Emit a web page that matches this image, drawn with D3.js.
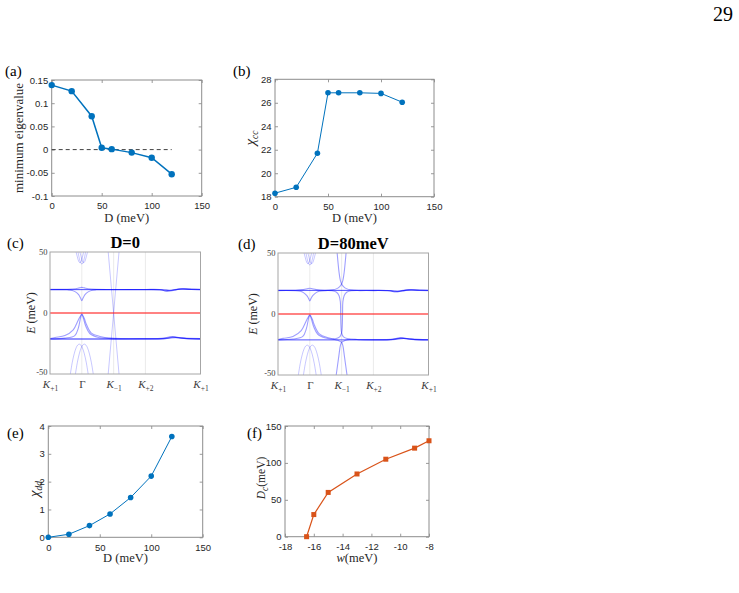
<!DOCTYPE html>
<html>
<head>
<meta charset="utf-8">
<script src="https://cdn.jsdelivr.net/npm/d3@7"></script>
<style>
  body { margin: 0; background: #fff; }
  svg { display: block; }
  .num .tick text { font-family: "Liberation Sans", Arial, sans-serif; font-size: 9.5px; fill: #262626; }
  .tick line { stroke: #808080; stroke-width: 0.8; }
</style>
</head>
<body>
<div id="chart"></div>
<script>
const WIDTH = 739;
const HEIGHT = 593;
const SERIF = '"Liberation Serif", "Times New Roman", serif';
const BLUE = '#0072bd';
const ORANGE = '#d95319';
const FRAME = '#8c8c8c';
const TEXT = '#262626';

// (a) minimum eigenvalue vs D
const dA = [0, 20, 40, 50, 60, 80, 100, 120];
const minEigen = [0.139, 0.126, 0.072, 0.004, 0.001, -0.0065, -0.0175, -0.053];
const zeroRefD = [0, 120];

// (b) chi_cc vs D
const dB = [0, 20, 40, 50, 60, 80, 100, 120];
const chiCC = [18.3, 18.8, 21.7, 26.85, 26.85, 26.85, 26.8, 26.05];

// (e) chi_dd vs D
const dE = [0, 20, 40, 60, 80, 100, 120];
const chiDD = [0, 0.11, 0.42, 0.84, 1.43, 2.2, 3.62];

// (f) critical D vs w
const wF = [-16.5, -16, -15, -13, -11, -9, -8];
const dCrit = [0, 30, 60, 85, 105, 120, 130];

// tick values
const dTicks = [0, 50, 100, 150];
const eigenTicks = [-0.1, -0.05, 0, 0.05, 0.1, 0.15];
const chiCCTicks = [18, 20, 22, 24, 26, 28];
const chiDDTicks = [0, 1, 2, 3, 4];
const wTicks = [-18, -16, -14, -12, -10, -8];
const dCritTicks = [0, 50, 100, 150];

// band structure path K+1 -> Γ -> K-1 -> K+2 -> K+1 (units of |K|)
const kPathTicks = [0, 1, 2, 3, 4.732];
const kPathLabels = [['K', '+1'], ['Γ', ''], ['K', '−1'], ['K', '+2'], ['K', '+1']];
const energyTicks = [-50, 0, 50];

// remote bands around Γ (same in both panels)
const topCupL = [[0.82, 50], [0.86, 46], [0.9, 42.5], [0.94, 41.2], [0.98, 42.5], [1.02, 46], [1.06, 50]];
const topCupM = [[0.88, 50], [0.92, 45], [0.96, 41.3], [1, 40.2], [1.04, 41.3], [1.08, 45], [1.12, 50]];
const topCupR = [[0.94, 50], [0.98, 46], [1.02, 42.5], [1.06, 41.2], [1.1, 42.5], [1.14, 46], [1.18, 50]];
const archL = [[0.64, -50], [0.7, -40.5], [0.76, -33.5], [0.82, -28.6], [0.87, -26.3], [0.92, -25.5], [0.97, -26.3], [1.02, -28.6], [1.08, -33.5], [1.14, -40.5], [1.2, -50]];
const archR = [[0.8, -50], [0.86, -40.5], [0.92, -33.5], [0.98, -28.6], [1.03, -26.3], [1.08, -25.5], [1.13, -26.3], [1.18, -28.6], [1.24, -33.5], [1.3, -40.5], [1.36, -50]];

// (c) D = 0
const cUpperRise = [[0, 19.4], [0.55, 19.4], [0.8, 19.9], [0.92, 20.6], [1, 21], [1.08, 20.6], [1.2, 19.9], [1.45, 19.4], [2, 19.3], [3, 19.3], [3.45, 19.2], [3.65, 18.2], [3.85, 18.9], [4.1, 19.8], [4.4, 19.4], [4.732, 19.4]];
const cUpperDip = [[0, 19.1], [0.55, 19], [0.7, 18.5], [0.8, 17.3], [0.9, 15], [0.96, 12.3], [1, 10], [1.04, 12.3], [1.1, 15], [1.2, 17.3], [1.3, 18.5], [1.45, 19], [2, 19.1], [3, 19.1], [3.5, 18.9], [3.68, 17.7], [3.9, 18.6], [4.15, 19.9], [4.45, 19.3], [4.732, 19.1]];
const cUpperFlat = [[0, 19.2], [2, 19.2], [3, 19.2], [3.6, 19], [3.8, 18.6], [4.05, 19.5], [4.732, 19.2]];
const cUpperFlat2 = [[0, 19.3], [2, 19.3], [3, 19.3], [3.55, 19.1], [3.75, 18.4], [4, 19.3], [4.2, 19.7], [4.732, 19.3]];
const cLowerPeakA = [[0, -21], [0.16, -20.1], [0.47, -18.5], [0.73, -13.8], [0.89, -5.7], [0.97, -1.8], [1, -0.8], [1.03, -1.8], [1.08, -4.5], [1.15, -9.7], [1.3, -16.5], [1.57, -19.2], [1.93, -20.6], [2.5, -21], [3, -21], [3.5, -20.8], [3.85, -19.3], [4.15, -20.4], [4.732, -21]];
const cLowerPeakB = [[0, -21.3], [0.47, -20.6], [0.78, -18.5], [0.89, -12.4], [0.97, -2.9], [1, -1.2], [1.04, -3.5], [1.12, -10.5], [1.25, -16.8], [1.5, -19.8], [1.9, -21], [3, -21.2], [3.55, -21], [3.85, -19.8], [4.2, -20.8], [4.732, -21.2]];
const cLowerFlat = [[0, -21.4], [2, -21.4], [3, -21.3], [3.7, -20.9], [3.95, -20.2], [4.3, -21], [4.732, -21.4]];
const cLowerFlat2 = [[0, -21.2], [2, -21.2], [3, -21.2], [3.6, -21], [3.9, -19.9], [4.2, -20.7], [4.732, -21.2]];
const cDiracA = [[1.83, 50], [2.17, -50]];
const cDiracB = [[2.17, 50], [1.83, -50]];

// (d) D = 80 meV
const dRiseToTop = [[0, 19.5], [0.55, 19.5], [0.8, 20], [0.92, 20.7], [1, 21.1], [1.08, 20.7], [1.2, 20], [1.45, 19.5], [1.7, 19.8], [1.85, 20.8], [1.94, 22.5], [2, 24.6], [2.04, 27.5], [2.08, 34], [2.14, 50]];
const dTopToRight = [[1.86, 50], [1.92, 34], [1.96, 27.5], [2, 24.6], [2.06, 22.5], [2.15, 20.8], [2.3, 19.8], [2.6, 19.5], [3, 19.5], [3.45, 19.3], [3.65, 18.4], [3.85, 19], [4.1, 19.9], [4.4, 19.5], [4.732, 19.5]];
const dDipToLower = [[0, 19.2], [0.55, 19.1], [0.7, 18.6], [0.8, 17.5], [0.9, 15.2], [0.96, 12.8], [1, 10.7], [1.04, 12.8], [1.1, 15.2], [1.2, 17.5], [1.3, 18.6], [1.5, 19.2], [1.7, 19], [1.84, 17.8], [1.92, 15], [1.96, 10], [1.97, 0], [1.98, -10], [2.0, -15.5], [2.06, -18.8], [2.2, -20.3], [2.5, -20.9], [3, -21], [3.55, -20.8], [3.85, -19.6], [4.2, -20.6], [4.732, -21]];
const dPeakToUpper = [[0, -20.9], [0.16, -20], [0.47, -18.4], [0.73, -13.6], [0.89, -5.5], [0.97, -1.6], [1, -0.6], [1.03, -1.6], [1.08, -4.3], [1.15, -9.5], [1.3, -16.3], [1.55, -19.2], [1.8, -20.3], [1.94, -18.8], [2.0, -15.5], [2.02, -10], [2.03, 0], [2.04, 10], [2.08, 15], [2.16, 17.8], [2.3, 19], [2.6, 19.2], [3, 19.2], [3.5, 19], [3.7, 18], [3.9, 18.8], [4.15, 19.8], [4.45, 19.3], [4.732, 19.2]];
const dPeakToBottom = [[0, -21.2], [0.47, -20.5], [0.78, -18.4], [0.89, -12.2], [0.97, -2.7], [1, -1], [1.04, -3.3], [1.12, -10.3], [1.25, -16.6], [1.5, -19.7], [1.75, -20.8], [1.88, -21.6], [1.96, -22.6], [2, -23.2], [2.04, -26], [2.09, -35], [2.17, -50]];
const dBottomToRight = [[1.83, -50], [1.91, -35], [1.96, -26], [2, -23.2], [2.04, -22.6], [2.12, -21.6], [2.25, -20.8], [2.6, -21.1], [3, -21.2], [3.55, -21], [3.85, -19.8], [4.2, -20.8], [4.732, -21.2]];
const dUpperFlat = [[0, 19.3], [1.7, 19.3], [2.3, 19.3], [3, 19.3], [3.6, 19.1], [3.8, 18.7], [4.05, 19.6], [4.732, 19.3]];
const dUpperFlat2 = [[0, 19.4], [1.75, 19.4], [2.25, 19.4], [3, 19.4], [3.55, 19.2], [3.75, 18.5], [4.0, 19.4], [4.2, 19.8], [4.732, 19.4]];
const dLowerFlat = [[0, -21.3], [1.7, -21.3], [2.3, -21.3], [3, -21.3], [3.7, -20.9], [3.95, -20.1], [4.3, -21], [4.732, -21.3]];
const dLowerFlat2 = [[0, -21.1], [1.75, -21.1], [2.25, -21.1], [3, -21.1], [3.6, -20.9], [3.9, -19.8], [4.2, -20.6], [4.732, -21.1]];

const svg = d3.select('#chart').append('svg')
    .attr('width', WIDTH)
    .attr('height', HEIGHT);

/**
 * Box with inward ticks on all four sides (MATLAB style)
 */
const drawFrame = (g, x, y, xTicks, yTicks, xFmt, yFmt) => {
    const [l, r] = x.range();
    const [b, t] = y.range();
    const tick = 3;

    g.append('g').attr('class', 'num')
        .attr('transform', `translate(0,${b})`)
        .call(d3.axisBottom(x).tickValues(xTicks).tickSize(-tick).tickPadding(6.5).tickFormat(xFmt))
        .call(a => a.select('.domain').remove());
    g.append('g')
        .attr('transform', `translate(0,${t})`)
        .call(d3.axisTop(x).tickValues(xTicks).tickSize(-tick).tickFormat(''))
        .call(a => a.select('.domain').remove());
    g.append('g').attr('class', 'num')
        .attr('transform', `translate(${l},0)`)
        .call(d3.axisLeft(y).tickValues(yTicks).tickSize(-tick).tickPadding(3.5).tickFormat(yFmt))
        .call(a => a.select('.domain').remove());
    g.append('g')
        .attr('transform', `translate(${r},0)`)
        .call(d3.axisRight(y).tickValues(yTicks).tickSize(-tick).tickFormat(''))
        .call(a => a.select('.domain').remove());

    g.append('rect')
        .attr('x', l).attr('y', t)
        .attr('width', r - l).attr('height', b - t)
        .attr('fill', 'none')
        .attr('stroke', FRAME)
        .attr('stroke-width', 1);
};

/**
 * Line + marker panel
 */
const drawLinePanel = (cfg) => {
    const x = d3.scaleLinear().domain(cfg.xDomain).range([cfg.left, cfg.right]);
    const y = d3.scaleLinear().domain(cfg.yDomain).range([cfg.bottom, cfg.top]);
    const g = svg.append('g');

    drawFrame(g, x, y, cfg.xTicks, cfg.yTicks, d => String(d), d => String(d));

    if (cfg.extra) cfg.extra(g, x, y);

    const pts = cfg.xs.map((v, i) => [v, cfg.ys[i]]);
    g.append('path')
        .datum(pts)
        .attr('fill', 'none')
        .attr('stroke', cfg.color)
        .attr('stroke-width', cfg.lineWidth)
        .attr('d', d3.line().x(d => x(d[0])).y(d => y(d[1])));

    if (cfg.square) {
        g.selectAll('rect.mk').data(pts).join('rect')
            .attr('class', 'mk')
            .attr('x', d => x(d[0]) - cfg.size / 2)
            .attr('y', d => y(d[1]) - cfg.size / 2)
            .attr('width', cfg.size).attr('height', cfg.size)
            .attr('fill', cfg.color);
    } else {
        g.selectAll('circle').data(pts).join('circle')
            .attr('cx', d => x(d[0]))
            .attr('cy', d => y(d[1]))
            .attr('r', cfg.size)
            .attr('fill', cfg.color);
    }
    return g;
};

/**
 * Band structure panel
 */
const drawBandPanel = (cfg) => {
    const x = d3.scaleLinear().domain([0, 4.732]).range([cfg.left, cfg.right]);
    const y = d3.scaleLinear().domain([-50, 50]).range([cfg.bottom, cfg.top]);
    const g = svg.append('g');

    g.append('clipPath').attr('id', cfg.id)
        .append('rect')
        .attr('x', cfg.left).attr('y', cfg.top)
        .attr('width', cfg.right - cfg.left).attr('height', cfg.bottom - cfg.top);

    // vertical guides at high-symmetry points
    g.selectAll('line.guide')
        .data(kPathTicks.slice(1, -1))
        .join('line')
        .attr('class', 'guide')
        .attr('x1', d => x(d)).attr('x2', d => x(d))
        .attr('y1', cfg.top).attr('y2', cfg.bottom)
        .attr('stroke', '#e3e3e3')
        .attr('stroke-width', 0.7);

    const band = d3.line()
        .x(d => x(d[0]))
        .y(d => y(d[1]))
        .curve(d3.curveCatmullRom.alpha(0.5));

    const clipped = g.append('g').attr('clip-path', `url(#${cfg.id})`);

    // remote / dispersive bands: faint
    clipped.append('g')
        .selectAll('path')
        .data(cfg.faint)
        .join('path')
        .attr('fill', 'none')
        .attr('stroke', '#0000ff')
        .attr('stroke-width', 0.8)
        .attr('stroke-opacity', 0.28)
        .attr('d', band);

    // flat bands: several overlapping lines
    clipped.append('g')
        .selectAll('path')
        .data(cfg.bands)
        .join('path')
        .attr('fill', 'none')
        .attr('stroke', '#0000ff')
        .attr('stroke-width', 1.1)
        .attr('stroke-opacity', 0.38)
        .attr('d', band);

    // Fermi level
    g.append('line')
        .attr('x1', cfg.left).attr('x2', cfg.right)
        .attr('y1', y(0)).attr('y2', y(0))
        .attr('stroke', '#ff2020')
        .attr('stroke-opacity', 0.75)
        .attr('stroke-width', 1.5);

    g.append('rect')
        .attr('x', cfg.left).attr('y', cfg.top)
        .attr('width', cfg.right - cfg.left).attr('height', cfg.bottom - cfg.top)
        .attr('fill', 'none')
        .attr('stroke', '#a6a6a6')
        .attr('stroke-width', 1);

    // energy ticks (the lowest one sits a touch above the corner)
    const yAx = g.append('g')
        .attr('transform', `translate(${cfg.left},0)`)
        .call(d3.axisLeft(y).tickValues(energyTicks).tickSize(0).tickPadding(2.5).tickFormat(d => String(d)))
        .call(a => a.select('.domain').remove());
    yAx.selectAll('text')
        .attr('font-family', SERIF)
        .attr('font-size', '8.5px')
        .attr('fill', '#404040')
        .attr('y', d => (d === -50 ? -2 : 0));

    // k-path ticks
    const xAx = g.append('g')
        .attr('transform', `translate(0,${cfg.bottom})`)
        .call(d3.axisBottom(x).tickValues(kPathTicks).tickSize(0).tickPadding(6.5).tickFormat(''))
        .call(a => a.select('.domain').remove());
    xAx.selectAll('.tick text').each(function (d, i) {
        const t = d3.select(this)
            .attr('font-family', SERIF)
            .attr('font-size', '11px')
            .attr('fill', '#404040');
        t.append('tspan').attr('font-style', kPathLabels[i][1] ? 'italic' : 'normal').text(kPathLabels[i][0]);
        if (kPathLabels[i][1]) {
            t.append('tspan').attr('font-size', '7.5px').attr('dy', 3).text(kPathLabels[i][1]);
        }
    });

    // y label: E (meV)
    const yl = g.append('text')
        .attr('transform', `translate(${cfg.yLabelX},${(cfg.top + cfg.bottom) / 2}) rotate(-90)`)
        .attr('text-anchor', 'middle')
        .attr('font-family', SERIF)
        .attr('font-size', '12px')
        .attr('fill', TEXT);
    yl.append('tspan').attr('font-style', 'italic').text('E');
    yl.append('tspan').text(' (meV)');

    // title
    g.append('text')
        .attr('x', (cfg.left + cfg.right) / 2)
        .attr('y', cfg.top - 4.5)
        .attr('text-anchor', 'middle')
        .attr('font-family', SERIF)
        .attr('font-weight', 'bold')
        .attr('font-size', '16.5px')
        .attr('fill', '#000')
        .text(cfg.title);
};

/**
 * Plain serif text helper
 */
const addText = (x, y, str, size, opts = {}) => {
    return svg.append('text')
        .attr('x', x).attr('y', y)
        .attr('text-anchor', opts.anchor || 'start')
        .attr('font-family', SERIF)
        .attr('font-size', size)
        .attr('fill', opts.fill || '#000')
        .text(str);
};

/**
 * Rotated label built from [text, style] pieces
 */
const addRotatedLabel = (x, y, pieces, size) => {
    const t = svg.append('text')
        .attr('transform', `translate(${x},${y}) rotate(-90)`)
        .attr('text-anchor', 'middle')
        .attr('font-family', SERIF)
        .attr('font-size', size)
        .attr('fill', TEXT);
    pieces.forEach(p => {
        const s = t.append('tspan').text(p.text);
        if (p.italic) s.attr('font-style', 'italic');
        if (p.sub) s.attr('font-size', '9.5px');
        if (p.dy) s.attr('dy', p.dy);
    });
};

// page number
addText(713, 21, '29', '20px');

// (a)
drawLinePanel({
    left: 51.7, right: 201.7, top: 80, bottom: 196,
    xDomain: [0, 150], yDomain: [-0.1, 0.15],
    xTicks: dTicks, yTicks: eigenTicks,
    xs: dA, ys: minEigen,
    color: BLUE, lineWidth: 1.5, size: 3.2,
    extra: (g, x, y) => {
        g.append('line')
            .attr('x1', x(zeroRefD[0])).attr('x2', x(zeroRefD[1]))
            .attr('y1', y(0)).attr('y2', y(0))
            .attr('stroke', '#404040')
            .attr('stroke-width', 1)
            .attr('stroke-dasharray', '4,3');
    }
});
addText(5, 76, '(a)', '15px');
addRotatedLabel(22.5, 138, [{ text: 'minimum eigenvalue' }], '13px');
addText(126.7, 221.5, 'D (meV)', '12.5px', { anchor: 'middle', fill: TEXT });

// (b)
drawLinePanel({
    left: 275, right: 434, top: 79.3, bottom: 196.7,
    xDomain: [0, 150], yDomain: [18, 28],
    xTicks: dTicks, yTicks: chiCCTicks,
    xs: dB, ys: chiCC,
    color: BLUE, lineWidth: 1, size: 2.8
});
addText(233, 76, '(b)', '15px');
addRotatedLabel(255, 138, [{ text: 'χ', italic: true }, { text: 'cc', italic: true, sub: true, dy: 3 }], '15px');
addText(354.5, 221.5, 'D (meV)', '12.5px', { anchor: 'middle', fill: TEXT });

// (c), (d)
drawBandPanel({
    id: 'clipC', left: 50, right: 200.5, top: 252, bottom: 374,
    yLabelX: 35, title: 'D=0',
    faint: [topCupL, topCupM, topCupR, archL, archR, cDiracA, cDiracB],
    bands: [cUpperRise, cUpperDip, cUpperFlat, cUpperFlat2, cLowerPeakA, cLowerPeakB, cLowerFlat, cLowerFlat2]
});
addText(7, 248, '(c)', '15px');

drawBandPanel({
    id: 'clipD', left: 278, right: 428.5, top: 253, bottom: 375,
    yLabelX: 257, title: 'D=80meV',
    faint: [topCupL, topCupM, topCupR, archL, archR],
    bands: [dRiseToTop, dTopToRight, dDipToLower, dPeakToUpper, dPeakToBottom, dBottomToRight,
        dUpperFlat, dUpperFlat2, dLowerFlat, dLowerFlat2]
});
addText(238, 249, '(d)', '15px');

// (e)
drawLinePanel({
    left: 48.3, right: 202.7, top: 426, bottom: 537.3,
    xDomain: [0, 150], yDomain: [0, 4],
    xTicks: dTicks, yTicks: chiDDTicks,
    xs: dE, ys: chiDD,
    color: BLUE, lineWidth: 1, size: 2.8
});
addText(7, 438, '(e)', '15px');
addRotatedLabel(38.5, 489, [{ text: 'χ', italic: true }, { text: 'dd', italic: true, sub: true, dy: 3 }], '15px');
addText(125.5, 561.5, 'D (meV)', '12.5px', { anchor: 'middle', fill: TEXT });

// (f)
drawLinePanel({
    left: 285, right: 429, top: 426, bottom: 536.7,
    xDomain: [-18, -8], yDomain: [0, 150],
    xTicks: wTicks, yTicks: dCritTicks,
    xs: wF, ys: dCrit,
    color: ORANGE, lineWidth: 1.2, size: 5, square: true
});
addText(247, 438, '(f)', '15px');
addRotatedLabel(265, 478, [{ text: 'D', italic: true }, { text: 'c', italic: true, sub: true, dy: 3 }, { text: '(meV)', dy: -3 }], '11.5px');
(() => {
    const t = svg.append('text')
        .attr('x', 357).attr('y', 561.5)
        .attr('text-anchor', 'middle')
        .attr('font-family', SERIF)
        .attr('font-size', '12.5px')
        .attr('fill', TEXT);
    t.append('tspan').attr('font-style', 'italic').text('w');
    t.append('tspan').text('(meV)');
})();
</script>
</body>
</html>
